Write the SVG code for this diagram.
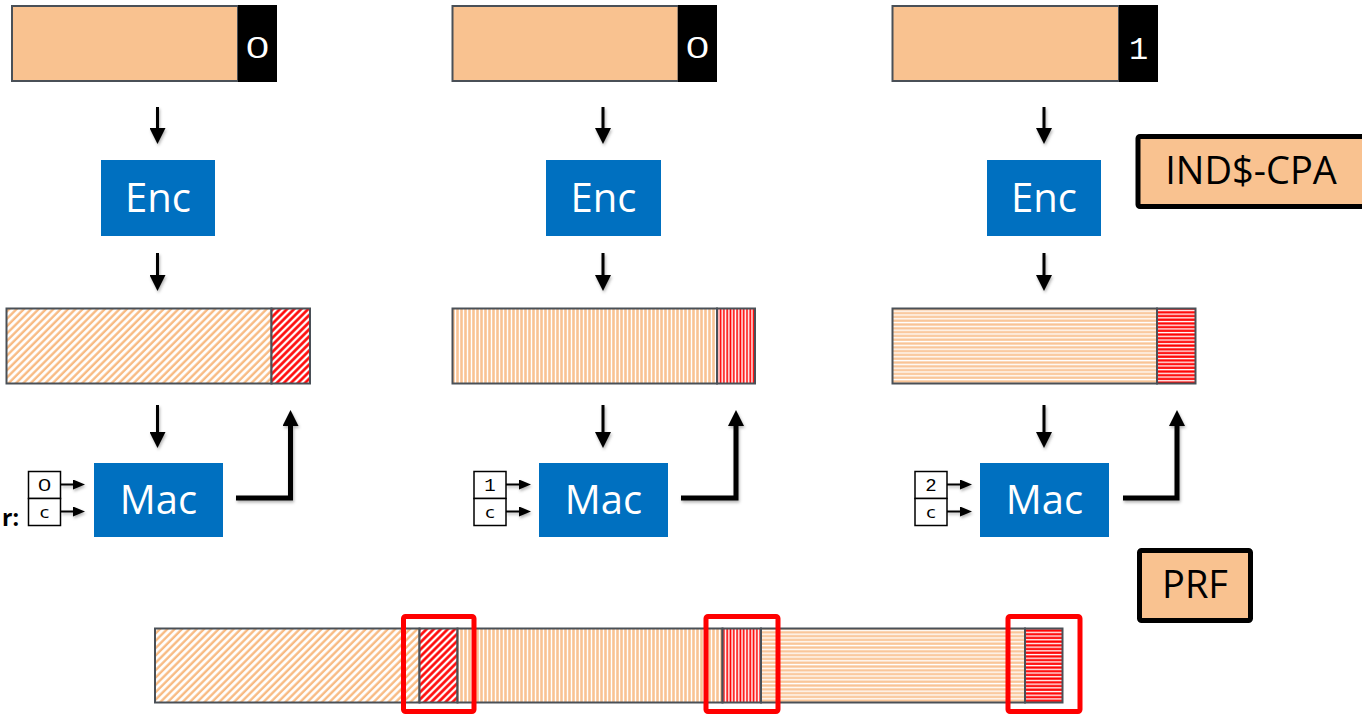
<svg xmlns="http://www.w3.org/2000/svg" width="1362" height="715" viewBox="0 0 1362 715">
<style>
.plain{fill:#F9C290;stroke:#4A5057;stroke-width:2}
.tagblk{fill:#000000}
.bar{stroke:#4A5057;stroke-width:2}
.blue{fill:#0070C0}
.lbl{font-family:"Open Sans","Noto Sans",sans-serif;font-size:40px;fill:#ffffff;text-anchor:middle}
.dig{font-family:"Open Sans","Noto Sans",sans-serif;font-size:30px;fill:#ffffff;text-anchor:middle}
.digm{font-family:"Liberation Mono","DejaVu Sans Mono",monospace;font-size:32px;fill:#ffffff;text-anchor:middle}
.sdig{font-family:"Open Sans","Noto Sans",sans-serif;font-size:17px;fill:#000000;text-anchor:middle}
.sdigm{font-family:"Liberation Mono","DejaVu Sans Mono",monospace;font-size:19px;fill:#000000;text-anchor:middle}
.sbox{fill:#ffffff;stroke:#000000;stroke-width:1.5}
.arr{fill:none;stroke:#000000;stroke-width:3}
.larr{fill:none;stroke:#000000;stroke-width:5}
.sarr{fill:none;stroke:#000000;stroke-width:2}
.redbox{fill:none;stroke:#FF0000;stroke-width:5}
.tbox{fill:#F9C290;stroke:#000000;stroke-width:5}
.tlbl{font-family:"Open Sans","Noto Sans",sans-serif;font-size:38px;fill:#000000;text-anchor:middle}
</style>
<defs>
<filter id="sh" x="-50%" y="-50%" width="200%" height="200%">
<feDropShadow dx="1" dy="2" stdDeviation="1.5" flood-color="#000000" flood-opacity="0.3"/>
</filter>
<marker id="head" viewBox="0 0 16 16" refX="8" refY="8" markerWidth="16" markerHeight="16" markerUnits="userSpaceOnUse" orient="auto">
<path d="M0,0 L16,8 L0,16 z" fill="#000000"/>
</marker>
<marker id="shead" viewBox="0 0 12 10" refX="6" refY="5" markerWidth="12" markerHeight="10" markerUnits="userSpaceOnUse" orient="auto">
<path d="M0,0 L12,5 L0,10 z" fill="#000000"/>
</marker>
<pattern id="diagO" width="5.2" height="5.2" patternUnits="userSpaceOnUse" patternTransform="rotate(45)">
<rect width="5.2" height="5.2" fill="#ffffff"/>
<line x1="1.5" y1="0" x2="1.5" y2="5.2" stroke="#F8BA82" stroke-width="2.4"/>
</pattern>
<pattern id="diagR" width="5" height="5" patternUnits="userSpaceOnUse" patternTransform="rotate(45)">
<rect width="5" height="5" fill="#ffffff"/>
<line x1="1.5" y1="0" x2="1.5" y2="5" stroke="#FF0000" stroke-width="2.6"/>
</pattern>
<pattern id="vertO" width="4" height="4" patternUnits="userSpaceOnUse">
<rect width="4" height="4" fill="#ffffff"/>
<line x1="1.5" y1="0" x2="1.5" y2="4" stroke="#F9C394" stroke-width="2.6"/>
</pattern>
<pattern id="vertR" width="3.3" height="4" patternUnits="userSpaceOnUse">
<rect width="3.3" height="4" fill="#ffffff"/>
<line x1="1.2" y1="0" x2="1.2" y2="4" stroke="#FF0000" stroke-width="1.7"/>
</pattern>
<pattern id="horO" width="4" height="3.8" patternUnits="userSpaceOnUse">
<rect width="4" height="3.8" fill="#ffffff"/>
<line x1="0" y1="1.5" x2="4" y2="1.5" stroke="#F9C394" stroke-width="2.3"/>
</pattern>
<pattern id="horR" width="4" height="3.7" patternUnits="userSpaceOnUse">
<rect width="4" height="3.7" fill="#ffffff"/>
<line x1="0" y1="1.5" x2="4" y2="1.5" stroke="#FF0000" stroke-width="2.3"/>
</pattern>
</defs>

<g id="msg1">
<rect class="plain" x="12" y="6" width="226" height="75"/>
<rect class="tagblk" x="238" y="5" width="39" height="77"/>
<text class="dig" transform="translate(257.5,58) scale(1.4,1)">0</text>
</g>
<g id="msg2">
<rect class="plain" x="452.5" y="6" width="226" height="75"/>
<rect class="tagblk" x="678" y="5" width="39" height="77"/>
<text class="dig" transform="translate(697.5,58) scale(1.4,1)">0</text>
</g>
<g id="msg3">
<rect class="plain" x="892.5" y="6" width="226.5" height="75"/>
<rect class="tagblk" x="1119" y="5" width="39" height="77"/>
<text class="digm" x="1138.5" y="59">1</text>
</g>

<g id="enc1"><rect class="blue" x="101" y="160" width="114" height="76"/><text class="lbl" x="158" y="212">Enc</text></g>
<g id="enc2"><rect class="blue" x="546" y="160" width="115" height="76"/><text class="lbl" x="603.5" y="212">Enc</text></g>
<g id="enc3"><rect class="blue" x="987" y="160" width="114" height="76"/><text class="lbl" x="1044" y="212">Enc</text></g>

<g id="ct1">
<rect class="bar" x="6.5" y="308.5" width="265" height="75" fill="url(#diagO)"/>
<rect class="bar" x="271.5" y="308.5" width="38.5" height="75" fill="url(#diagR)"/>
</g>
<g id="ct2">
<rect class="bar" x="452.5" y="308.5" width="264.5" height="75" fill="url(#vertO)"/>
<rect class="bar" x="717" y="308.5" width="38" height="75" fill="url(#vertR)"/>
</g>
<g id="ct3">
<rect class="bar" x="892.5" y="308.5" width="264.5" height="75" fill="url(#horO)"/>
<rect class="bar" x="1157" y="308.5" width="38.5" height="75" fill="url(#horR)"/>
</g>

<g id="mac1"><rect class="blue" x="94" y="463" width="129" height="74"/><text class="lbl" x="158.5" y="514">Mac</text></g>
<g id="mac2"><rect class="blue" x="539" y="463" width="129" height="74"/><text class="lbl" x="603.5" y="514">Mac</text></g>
<g id="mac3"><rect class="blue" x="980" y="463" width="129" height="74"/><text class="lbl" x="1044.5" y="514">Mac</text></g>

<g id="ctr1">
<rect class="sbox" x="28.5" y="471.5" width="32" height="27"/>
<rect class="sbox" x="28.5" y="498.5" width="32" height="27"/>
<text class="sdig" transform="translate(44.5,491) scale(1.4,1)">0</text>
<text class="sdig" transform="translate(44.5,518) scale(1.2,1)">c</text>
</g>
<g id="ctr2">
<rect class="sbox" x="474" y="471.5" width="32" height="27"/>
<rect class="sbox" x="474" y="498.5" width="32" height="27"/>
<text class="sdigm" x="490" y="491">1</text>
<text class="sdig" transform="translate(490,518) scale(1.2,1)">c</text>
</g>
<g id="ctr3">
<rect class="sbox" x="915" y="471.5" width="32" height="27"/>
<rect class="sbox" x="915" y="498.5" width="32" height="27"/>
<text class="sdigm" x="931" y="491">2</text>
<text class="sdig" transform="translate(931,518) scale(1.2,1)">c</text>
</g>

<g id="rlabel"><text x="19" y="526" font-family="'Open Sans','Noto Sans',sans-serif" font-size="23" font-weight="bold" fill="#000000" text-anchor="end">r:</text></g>

<g id="indcpa">
<rect class="tbox" x="1138" y="136.5" width="240" height="70" rx="2"/>
<text class="tlbl" x="1251" y="184">IND$-CPA</text>
</g>
<g id="prf">
<rect class="tbox" x="1139.5" y="550.5" width="111" height="70" rx="2"/>
<text class="tlbl" x="1195" y="598">PRF</text>
</g>

<g id="output">
<rect class="bar" x="155" y="628.5" width="264.5" height="74" fill="url(#diagO)"/>
<rect class="bar" x="419.5" y="628.5" width="38" height="74" fill="url(#diagR)"/>
<rect class="bar" x="457.5" y="628.5" width="265" height="74" fill="url(#vertO)"/>
<rect class="bar" x="722.5" y="628.5" width="38.5" height="74" fill="url(#vertR)"/>
<rect class="bar" x="761" y="628.5" width="264" height="74" fill="url(#horO)"/>
<rect class="bar" x="1025" y="628.5" width="37.5" height="74" fill="url(#horR)"/>
<rect class="redbox" x="403.5" y="616.5" width="70.5" height="95" rx="2"/>
<rect class="redbox" x="706" y="616.5" width="72" height="95" rx="2"/>
<rect class="redbox" x="1008" y="616.5" width="72" height="95" rx="2"/>
</g>

<g id="connectors" filter="url(#sh)">
<line class="arr" x1="157.5" y1="107" x2="157.5" y2="136" marker-end="url(#head)"/>
<line class="arr" x1="603" y1="107" x2="603" y2="136" marker-end="url(#head)"/>
<line class="arr" x1="1044" y1="107" x2="1044" y2="136" marker-end="url(#head)"/>
<line class="arr" x1="157.5" y1="253" x2="157.5" y2="283" marker-end="url(#head)"/>
<line class="arr" x1="603" y1="253" x2="603" y2="283" marker-end="url(#head)"/>
<line class="arr" x1="1044" y1="253" x2="1044" y2="283" marker-end="url(#head)"/>
<line class="arr" x1="157.5" y1="405" x2="157.5" y2="440" marker-end="url(#head)"/>
<line class="arr" x1="603" y1="405" x2="603" y2="440" marker-end="url(#head)"/>
<line class="arr" x1="1044" y1="405" x2="1044" y2="440" marker-end="url(#head)"/>
<path class="larr" d="M236,498 H290.5 V418" marker-end="url(#head)"/>
<path class="larr" d="M681,498 H736 V418" marker-end="url(#head)"/>
<path class="larr" d="M1123,498 H1177 V418" marker-end="url(#head)"/>
<line class="sarr" x1="61" y1="484.5" x2="79" y2="484.5" marker-end="url(#shead)"/>
<line class="sarr" x1="61" y1="511.5" x2="79" y2="511.5" marker-end="url(#shead)"/>
<line class="sarr" x1="506" y1="484.5" x2="525" y2="484.5" marker-end="url(#shead)"/>
<line class="sarr" x1="506" y1="511.5" x2="525" y2="511.5" marker-end="url(#shead)"/>
<line class="sarr" x1="947" y1="484.5" x2="966" y2="484.5" marker-end="url(#shead)"/>
<line class="sarr" x1="947" y1="511.5" x2="966" y2="511.5" marker-end="url(#shead)"/>
</g>
</svg>
